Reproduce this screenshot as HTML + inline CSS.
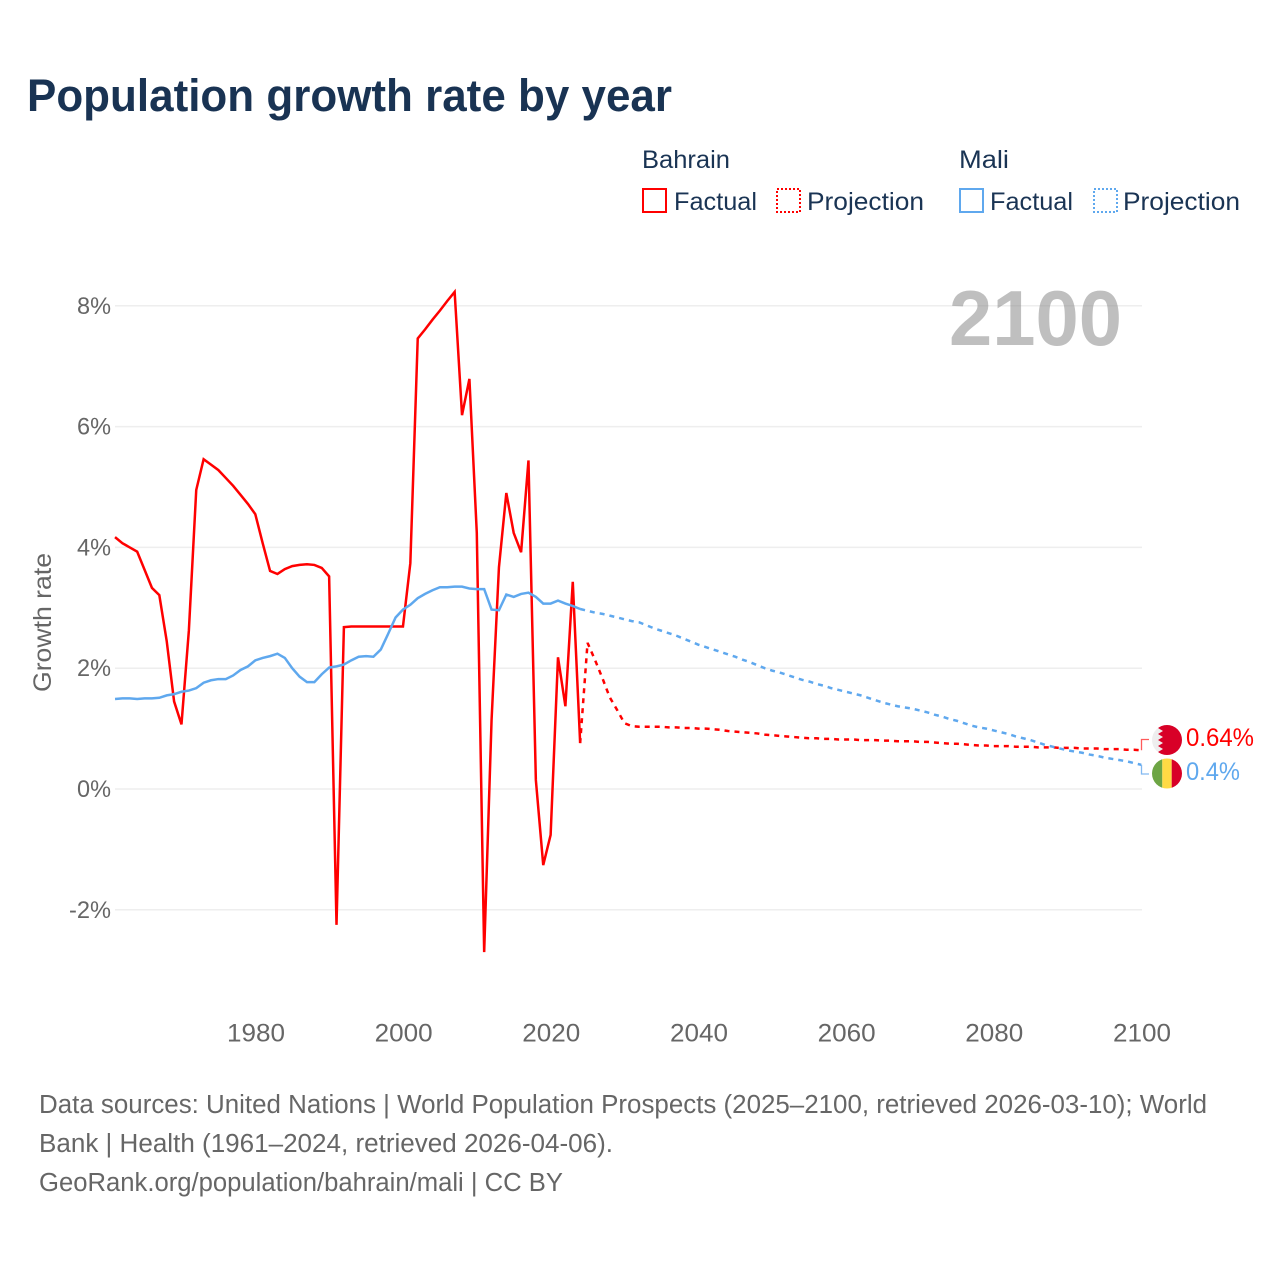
<!DOCTYPE html>
<html lang="en">
<head>
<meta charset="utf-8">
<title>Population growth rate by year</title>
<style>
html,body{margin:0;padding:0;background:#fff;}
svg{display:block;}
text{font-family:"Liberation Sans",sans-serif;}
</style>
</head>
<body>
<svg id="chart" xmlns="http://www.w3.org/2000/svg" width="1280" height="1280" viewBox="0 0 1280 1280">
  <rect x="0" y="0" width="1280" height="1280" fill="#ffffff"/>
  <text x="27" y="111" font-size="45" font-weight="700" fill="#193353" textLength="645" lengthAdjust="spacingAndGlyphs">Population growth rate by year</text>

  <g font-size="25" fill="#1a3454">
    <text x="642" y="168" textLength="88" lengthAdjust="spacingAndGlyphs">Bahrain</text>
    <rect x="643" y="189" width="23" height="23" fill="none" stroke="#ff0000" stroke-width="2"/>
    <text x="674" y="210" textLength="83" lengthAdjust="spacingAndGlyphs">Factual</text>
    <rect x="777" y="189" width="23" height="23" fill="none" stroke="#ff0000" stroke-width="2" stroke-dasharray="2 2"/>
    <text x="807" y="210" textLength="117" lengthAdjust="spacingAndGlyphs">Projection</text>
    <text x="959" y="168" textLength="50" lengthAdjust="spacingAndGlyphs">Mali</text>
    <rect x="960" y="189" width="23" height="23" fill="none" stroke="#5fa8ee" stroke-width="2"/>
    <text x="990" y="210" textLength="83" lengthAdjust="spacingAndGlyphs">Factual</text>
    <rect x="1094" y="189" width="23" height="23" fill="none" stroke="#5fa8ee" stroke-width="2" stroke-dasharray="2 2"/>
    <text x="1123" y="210" textLength="117" lengthAdjust="spacingAndGlyphs">Projection</text>
  </g>

  <g id="grid"></g>
  <text x="949" y="345" font-size="78" font-weight="700" fill="#808080" fill-opacity="0.5" textLength="173" lengthAdjust="spacingAndGlyphs">2100</text>
  <g id="yaxis"></g>
  <g id="xaxis"></g>
  <text transform="translate(51,692) rotate(-90)" font-size="25" fill="#666666" textLength="139" lengthAdjust="spacingAndGlyphs">Growth rate</text>
  <g id="series"></g>

  <defs>
    <clipPath id="clip-bahrain"><circle cx="1167" cy="740" r="15"/></clipPath>
    <clipPath id="clip-mali"><circle cx="1167" cy="773.5" r="15"/></clipPath>
  </defs>
  <g clip-path="url(#clip-bahrain)">
    <rect x="1150" y="723" width="34" height="34" fill="#eeeeee"/>
    <polygon points="1163,723 1158,728 1163,731 1158,734 1163,737 1158,740 1163,743 1158,746 1163,749 1158,752 1163,757 1184,757 1184,723" fill="#d80027"/>
  </g>
  <g clip-path="url(#clip-mali)">
    <rect x="1150" y="757" width="12.3" height="34" fill="#6da544"/>
    <rect x="1162.3" y="757" width="9.4" height="34" fill="#ffda44"/>
    <rect x="1171.7" y="757" width="12.3" height="34" fill="#d80027"/>
  </g>
  <text id="label-bahrain" x="1186" y="746" font-size="25" fill="#ff0000" textLength="68" lengthAdjust="spacingAndGlyphs"></text>
  <text id="label-mali" x="1186" y="780" font-size="25" fill="#5fa8ee" textLength="54" lengthAdjust="spacingAndGlyphs"></text>

  <g font-size="25.5" fill="#666666">
    <text x="39" y="1113" textLength="1168" lengthAdjust="spacingAndGlyphs">Data sources: United Nations | World Population Prospects (2025–2100, retrieved 2026-03-10); World</text>
    <text x="39" y="1152" textLength="574" lengthAdjust="spacingAndGlyphs">Bank | Health (1961–2024, retrieved 2026-04-06).</text>
    <text x="39" y="1191" textLength="524" lengthAdjust="spacingAndGlyphs">GeoRank.org/population/bahrain/mali | CC BY</text>
  </g>
</svg>
<script>
const yTickValues = [-2, 0, 2, 4, 6, 8];
const yTickLabels = ["-2%", "0%", "2%", "4%", "6%", "8%"];
const xTickValues = [1980, 2000, 2020, 2040, 2060, 2080, 2100];
const xTickLabels = ["1980", "2000", "2020", "2040", "2060", "2080", "2100"];

const factualYears = [1961,1962,1963,1964,1965,1966,1967,1968,1969,1970,1971,1972,1973,1974,1975,1976,1977,1978,1979,1980,1981,1982,1983,1984,1985,1986,1987,1988,1989,1990,1991,1992,1993,1994,1995,1996,1997,1998,1999,2000,2001,2002,2003,2004,2005,2006,2007,2008,2009,2010,2011,2012,2013,2014,2015,2016,2017,2018,2019,2020,2021,2022,2023,2024];
const bahrainFactual = [4.17,4.07,4.00,3.93,3.63,3.33,3.21,2.45,1.45,1.07,2.62,4.95,5.46,5.37,5.28,5.15,5.02,4.87,4.72,4.55,4.07,3.61,3.56,3.64,3.69,3.71,3.72,3.71,3.66,3.52,-2.25,2.68,2.69,2.69,2.69,2.69,2.69,2.69,2.69,2.69,3.74,7.46,7.61,7.77,7.92,8.08,8.23,6.19,6.79,4.24,-2.70,1.14,3.67,4.90,4.24,3.92,5.44,0.15,-1.26,-0.76,2.18,1.37,3.43,0.76];
const maliFactual = [1.49,1.50,1.50,1.49,1.50,1.50,1.51,1.55,1.57,1.61,1.63,1.67,1.76,1.80,1.82,1.82,1.88,1.97,2.03,2.13,2.17,2.20,2.24,2.17,2.00,1.86,1.77,1.77,1.90,2.01,2.03,2.06,2.13,2.19,2.20,2.19,2.31,2.57,2.84,2.97,3.05,3.16,3.23,3.29,3.34,3.34,3.35,3.35,3.32,3.31,3.31,2.97,2.96,3.22,3.18,3.23,3.25,3.18,3.07,3.07,3.12,3.07,3.03,2.98];

const projectionYears = [2024,2025,2026,2027,2028,2029,2030,2031,2032,2033,2034,2035,2036,2037,2038,2039,2040,2041,2042,2043,2044,2045,2046,2047,2048,2049,2050,2051,2052,2053,2054,2055,2056,2057,2058,2059,2060,2061,2062,2063,2064,2065,2066,2067,2068,2069,2070,2071,2072,2073,2074,2075,2076,2077,2078,2079,2080,2081,2082,2083,2084,2085,2086,2087,2088,2089,2090,2091,2092,2093,2094,2095,2096,2097,2098,2099,2100];
const bahrainProjection = [0.76,2.42,2.14,1.84,1.52,1.31,1.09,1.04,1.03,1.03,1.03,1.03,1.02,1.02,1.01,1.01,1.00,1.00,0.99,0.98,0.96,0.95,0.94,0.93,0.92,0.90,0.89,0.88,0.87,0.86,0.85,0.84,0.84,0.83,0.83,0.82,0.82,0.82,0.81,0.81,0.81,0.80,0.80,0.79,0.79,0.79,0.78,0.78,0.77,0.76,0.75,0.75,0.74,0.73,0.72,0.72,0.71,0.71,0.71,0.70,0.70,0.70,0.69,0.69,0.69,0.68,0.68,0.68,0.67,0.67,0.67,0.66,0.66,0.66,0.65,0.65,0.64];
const maliProjection = [2.98,2.95,2.92,2.90,2.87,2.84,2.81,2.78,2.76,2.71,2.66,2.62,2.58,2.54,2.49,2.44,2.39,2.35,2.31,2.27,2.23,2.19,2.14,2.10,2.05,2.00,1.96,1.93,1.89,1.85,1.81,1.78,1.74,1.71,1.67,1.64,1.61,1.58,1.55,1.51,1.47,1.43,1.40,1.37,1.35,1.33,1.30,1.27,1.23,1.20,1.16,1.13,1.09,1.05,1.02,1.00,0.97,0.94,0.91,0.87,0.84,0.81,0.77,0.73,0.70,0.67,0.64,0.62,0.60,0.57,0.55,0.52,0.50,0.48,0.46,0.43,0.40];

const endLabelBahrain = "0.64%";
const endLabelMali = "0.4%";

const SVG_NS = "http://www.w3.org/2000/svg";
const xScale = function (year) { return 255.3 + (year - 1980) * 7.383; };
const yScale = function (value) { return 789 - value * 60.4; };

function make(tag, parent) {
  const el = document.createElementNS(SVG_NS, tag);
  parent.appendChild(el);
  return el;
}

const gridGroup = document.getElementById("grid");
const yAxisGroup = document.getElementById("yaxis");
const xAxisGroup = document.getElementById("xaxis");
const seriesGroup = document.getElementById("series");

yTickValues.forEach(function (value, i) {
  const line = make("line", gridGroup);
  
  
  line.setAttribute("x1", 115);
  line.setAttribute("x2", 1142);
  line.setAttribute("y1", yScale(value));
  line.setAttribute("y2", yScale(value));
  line.setAttribute("stroke", "#eeeeee");
  line.setAttribute("stroke-width", "1.5");

  const label = make("text", yAxisGroup);
  
  
  label.setAttribute("x", 111);
  label.setAttribute("y", yScale(value) + 8);
  label.setAttribute("text-anchor", "end");
  label.setAttribute("font-size", "24");
  label.setAttribute("fill", "#666666");
  label.setAttribute("textLength", value < 0 ? "42" : "34");
  label.setAttribute("lengthAdjust", "spacingAndGlyphs");
  label.textContent = yTickLabels[i];
});

xTickValues.forEach(function (year, i) {
  const label = make("text", xAxisGroup);
  
  
  label.setAttribute("x", xScale(year) + 0.7);
  label.setAttribute("y", 1041.5);
  label.setAttribute("text-anchor", "middle");
  label.setAttribute("font-size", "25");
  label.setAttribute("fill", "#666666");
  label.setAttribute("textLength", "58");
  label.setAttribute("lengthAdjust", "spacingAndGlyphs");
  label.textContent = xTickLabels[i];
});

function linePath(years, values) {
  return values.map(function (value, i) {
    return (i === 0 ? "M" : "L") + xScale(years[i]).toFixed(2) + " " + yScale(value).toFixed(2);
  }).join(" ");
}

const redProjectionLine = make("path", seriesGroup);


redProjectionLine.setAttribute("d", linePath(projectionYears, bahrainProjection));
redProjectionLine.setAttribute("fill", "none");
redProjectionLine.setAttribute("stroke", "#ff0000");
redProjectionLine.setAttribute("stroke-width", "2.5");
redProjectionLine.setAttribute("stroke-dasharray", "5 5");

const redFactualLine = make("path", seriesGroup);


redFactualLine.setAttribute("d", linePath(factualYears, bahrainFactual));
redFactualLine.setAttribute("fill", "none");
redFactualLine.setAttribute("stroke", "#ff0000");
redFactualLine.setAttribute("stroke-width", "2.5");
redFactualLine.setAttribute("stroke-linejoin", "miter");

const blueProjectionLine = make("path", seriesGroup);


blueProjectionLine.setAttribute("d", linePath(projectionYears, maliProjection));
blueProjectionLine.setAttribute("fill", "none");
blueProjectionLine.setAttribute("stroke", "#5fa8ee");
blueProjectionLine.setAttribute("stroke-width", "2.5");
blueProjectionLine.setAttribute("stroke-dasharray", "5 5");

const blueFactualLine = make("path", seriesGroup);


blueFactualLine.setAttribute("d", linePath(factualYears, maliFactual));
blueFactualLine.setAttribute("fill", "none");
blueFactualLine.setAttribute("stroke", "#5fa8ee");
blueFactualLine.setAttribute("stroke-width", "2.5");

const redConnector = make("path", seriesGroup);


redConnector.setAttribute("d", "M1141.5 " + yScale(bahrainProjection[bahrainProjection.length - 1]).toFixed(1) + " V739.5 H1149");
redConnector.setAttribute("fill", "none");
redConnector.setAttribute("stroke", "#ff5a5a");
redConnector.setAttribute("stroke-width", "1.3");

const blueConnector = make("path", seriesGroup);


blueConnector.setAttribute("d", "M1141.5 " + yScale(maliProjection[maliProjection.length - 1]).toFixed(1) + " V774 H1149");
blueConnector.setAttribute("fill", "none");
blueConnector.setAttribute("stroke", "#82b9f1");
blueConnector.setAttribute("stroke-width", "1.3");

document.getElementById("label-bahrain").textContent = endLabelBahrain;
document.getElementById("label-mali").textContent = endLabelMali;
</script>
</body>
</html>
